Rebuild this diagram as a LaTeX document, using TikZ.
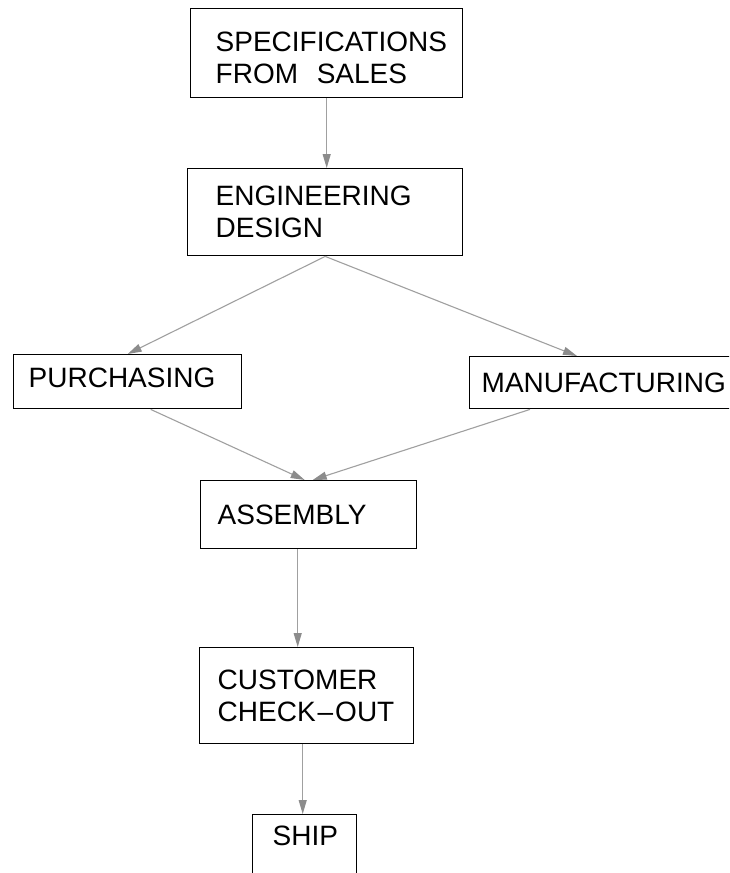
\documentclass[tikz,border=0pt]{standalone}
\usepackage{fontspec}
\setmainfont{Liberation Sans}
\usetikzlibrary{arrows.meta}
\definecolor{linegray}{RGB}{160,160,160}
\definecolor{headgray}{RGB}{140,140,140}
\begin{document}
\begin{tikzpicture}[x=1pt,y=-1pt,
  flowbox/.style={draw=black, line width=1.4pt, anchor=north west, align=left,
    font=\fontsize{28}{32}\selectfont, inner ysep=0pt},
  flowarrow/.style={draw=linegray, line width=1.1pt,
    -{Triangle[length=14pt,width=8pt,color=headgray,fill=headgray]}}
]
\clip (0,0) rectangle (729,873);
\fill[white] (0,0) rectangle (729,873);

\node[flowbox, inner xsep=25pt, text width=222pt, minimum height=89pt, text height=28pt] (spec) at (190,8)
  {SPECIFICATIONS\\FROM\ \ SALES};
\node[flowbox, inner xsep=28pt, text width=219pt, minimum height=87pt] (eng) at (187,168)
  {ENGINEERING\\DESIGN};
\node[flowbox, inner xsep=15pt, text width=198pt, minimum height=54pt, text depth=8pt] (purch) at (13,354)
  {PURCHASING};
\node[flowbox, inner xsep=12pt, text width=262pt, minimum height=52pt] (manuf) at (469,356)
  {MANUFACTURING};
\node[flowbox, inner xsep=17pt, text width=182pt, minimum height=68pt] (assem) at (200,480)
  {ASSEMBLY};
\node[flowbox, inner xsep=18pt, text width=178pt, minimum height=96pt] (cust) at (199,647)
  {CUSTOMER\\\mbox{CHECK\kern2pt--\kern2pt OUT}};
\node[flowbox, inner xsep=20pt, text width=64pt, text height=31pt, text depth=60pt] (ship) at (252,814)
  {SHIP};

\draw[flowarrow] (spec.south) -- (spec.south |- eng.north);
\draw[flowarrow] (eng.south) -- (purch.north);
\draw[flowarrow] (eng.south) -- ([xshift=108pt]manuf.north west);
\draw[flowarrow] ([xshift=23pt]purch.south) -- ([xshift=-4pt]assem.north);
\draw[flowarrow] ([xshift=61pt]manuf.south west) -- ([xshift=4pt]assem.north);
\draw[flowarrow] ([xshift=-11pt]assem.south) -- ([xshift=-11pt]assem.south |- cust.north);
\draw[flowarrow] ([xshift=-4pt]cust.south) -- ([xshift=-4pt]cust.south |- ship.north);
\end{tikzpicture}
\end{document}
